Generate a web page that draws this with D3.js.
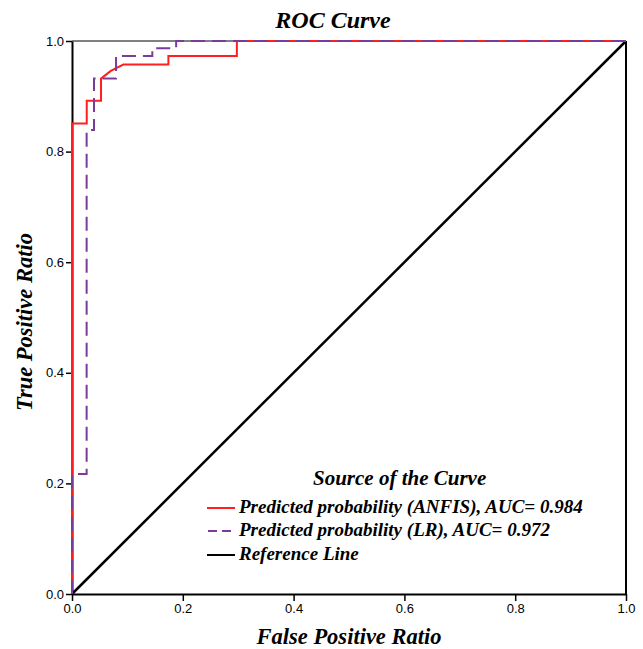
<!DOCTYPE html>
<html>
<head>
<meta charset="utf-8">
<script src="https://cdn.jsdelivr.net/npm/d3@7"></script>
<style>
  html, body { margin: 0; padding: 0; background: #fff; }
  svg { display: block; }
</style>
</head>
<body>
<div id="chart"></div>
<script>
// ---- data ----
const anfisFPR = [0, 0, 0.0266, 0.0266, 0.0524, 0.0524, 0.0700, 0.0927, 0.174, 0.174, 0.2976, 0.2976, 1];
const anfisTPR = [0, 0.851, 0.851, 0.892, 0.892, 0.932, 0.946, 0.9575, 0.9575, 0.973, 0.973, 1, 1];
const lrFPR = [0, 0, 0.0264, 0.0264, 0.0397, 0.0397, 0.0795, 0.0795, 0.145, 0.145, 0.188, 0.188, 1];
const lrTPR = [0, 0.217, 0.217, 0.839, 0.839, 0.932, 0.932, 0.973, 0.973, 0.987, 0.987, 1, 1];
const refFPR = [0, 1];
const refTPR = [0, 1];
const tickValues = [0, 0.2, 0.4, 0.6, 0.8, 1.0];
const legendLabels = [
  "Predicted probability (ANFIS), AUC= 0.984",
  "Predicted probability (LR), AUC= 0.972",
  "Reference Line"
];
const seriesColors = ["#ff1f1f", "#7a3c9a", "#000000"];
const titleText = "ROC Curve";
const xTitle = "False Positive Ratio";
const yTitle = "True Positive Ratio";
const legendTitle = "Source of the Curve";

// ---- layout ----
const W = 643, H = 649;
const x = d3.scaleLinear().domain([0, 1]).range([72, 626]);
const y = d3.scaleLinear().domain([0, 1]).range([594, 41]);

const svg = d3.select("#chart").append("svg").attr("width", W).attr("height", H);
const serif = "'Liberation Serif', 'Times New Roman', serif";
const sans = "'Liberation Sans', Arial, sans-serif";

// frame top & right
svg.append("line").attr("x1", x(0)).attr("x2", x(1)).attr("y1", y(1)).attr("y2", y(1))
  .attr("stroke", "#808080").attr("stroke-width", 2);
svg.append("line").attr("x1", x(1)).attr("x2", x(1)).attr("y1", y(1)).attr("y2", y(0))
  .attr("stroke", "#000").attr("stroke-width", 2);

// axes
const xAxis = d3.axisBottom(x).tickValues(tickValues).tickFormat(d3.format(".1f")).tickSizeInner(7).tickSizeOuter(0).tickPadding(3);
const yAxis = d3.axisLeft(y).tickValues(tickValues).tickFormat(d3.format(".1f")).tickSizeInner(6).tickSizeOuter(0).tickPadding(2);

const gx = svg.append("g").attr("transform", `translate(0,${y(0)})`).call(xAxis);
const gy = svg.append("g").attr("transform", `translate(${x(0)},0)`).call(yAxis);
[gx, gy].forEach(g => {
  g.select(".domain").attr("stroke", "#000").attr("stroke-width", 2);
  g.selectAll(".tick line").attr("stroke", "#000").attr("stroke-width", 1.5);
  g.selectAll(".tick text").attr("fill", "#000").style("font-family", sans).style("font-size", "13px");
});

// lines
const lineGen = d3.line().x(d => x(d[0])).y(d => y(d[1]));
const refData = refFPR.map((v, i) => [v, refTPR[i]]);
const lrData = lrFPR.map((v, i) => [v, lrTPR[i]]);
const anfisData = anfisFPR.map((v, i) => [v, anfisTPR[i]]);

svg.append("path").datum(refData).attr("d", lineGen).attr("fill", "none")
  .attr("stroke", seriesColors[2]).attr("stroke-width", 2.5);
svg.append("path").datum(anfisData).attr("d", lineGen).attr("fill", "none")
  .attr("stroke", seriesColors[0]).attr("stroke-width", 2);
svg.append("path").datum(lrData).attr("d", lineGen).attr("fill", "none")
  .attr("stroke", seriesColors[1]).attr("stroke-width", 2).attr("stroke-dasharray", "14,7");

// titles
svg.append("text").attr("x", 333).attr("y", 28).attr("text-anchor", "middle")
  .style("font-family", serif).style("font-weight", "bold").style("font-style", "italic")
  .style("font-size", "24px").text(titleText);
svg.append("text").attr("x", 349).attr("y", 644).attr("text-anchor", "middle")
  .style("font-family", serif).style("font-weight", "bold").style("font-style", "italic")
  .style("font-size", "22.5px").text(xTitle);
svg.append("text").attr("transform", "translate(32,322) rotate(-90)").attr("text-anchor", "middle")
  .style("font-family", serif).style("font-weight", "bold").style("font-style", "italic")
  .style("font-size", "22.5px").text(yTitle);

// legend
const lg = svg.append("g");
lg.append("text").attr("x", 313).attr("y", 485)
  .style("font-family", serif).style("font-weight", "bold").style("font-style", "italic")
  .style("font-size", "21px").text(legendTitle);
const rowY = [508, 531, 555];
legendLabels.forEach((lab, i) => {
  const ln = lg.append("line").attr("x1", 207).attr("x2", 235).attr("y1", rowY[i]).attr("y2", rowY[i])
    .attr("stroke", seriesColors[i]).attr("stroke-width", 2);
  if (i === 1) ln.attr("stroke-dasharray", "9,5").attr("x1", 208);
  lg.append("text").attr("x", 239).attr("y", rowY[i] + 5)
    .style("font-family", serif).style("font-weight", "bold").style("font-style", "italic")
    .style("font-size", "19px").text(lab);
});
</script>
</body>
</html>
